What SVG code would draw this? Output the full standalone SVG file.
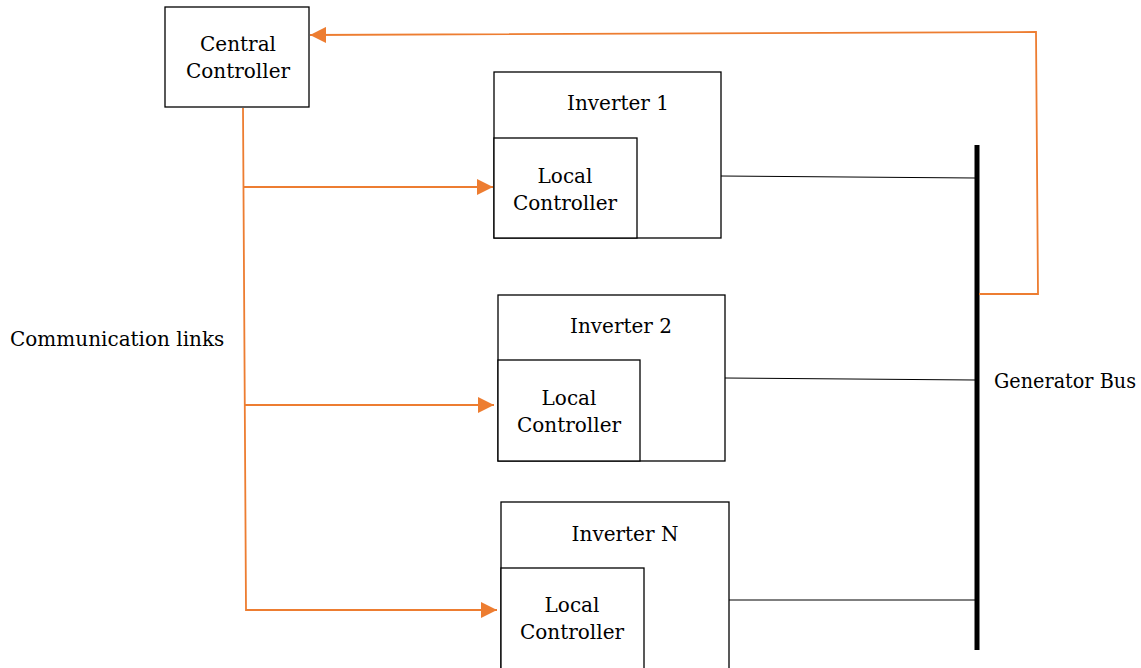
<svg xmlns="http://www.w3.org/2000/svg" width="1141" height="668" viewBox="0 0 1141 668">
  <style>
    .box { fill: #ffffff; stroke: #000000; stroke-width: 1.3; }
    .lbl { font-family: "DejaVu Serif", "Liberation Serif", serif; font-size: 20px; fill: #000000; }
    .mid { text-anchor: middle; }
    .comm { fill: none; stroke: #ED7D31; stroke-width: 1.8; }
    .wire { fill: none; stroke: #000000; stroke-width: 1; }
    .bus { fill: none; stroke: #000000; stroke-width: 5; }
  </style>
  <defs>
    <marker id="arrowL" viewBox="0 0 10 10" refX="10" refY="5" markerWidth="16" markerHeight="16" markerUnits="userSpaceOnUse" orient="auto">
      <path d="M0,0 L10,5 L0,10 Z" fill="#ED7D31"/>
    </marker>
  </defs>

  <g id="central-controller">
    <rect class="box" x="165" y="7" width="144" height="100"/>
    <text class="lbl mid" x="238" y="51">Central</text>
    <text class="lbl mid" x="238" y="78">Controller</text>
  </g>

  <g id="inverter-1">
    <rect class="box" x="494" y="72" width="227" height="166"/>
    <text class="lbl mid" x="618" y="110">Inverter 1</text>
    <rect class="box" x="494" y="138" width="143" height="100"/>
    <text class="lbl mid" x="565" y="183">Local</text>
    <text class="lbl mid" x="565" y="210">Controller</text>
  </g>

  <g id="inverter-2">
    <rect class="box" x="498" y="295" width="227" height="166"/>
    <text class="lbl mid" x="621" y="333">Inverter 2</text>
    <rect class="box" x="498" y="360" width="142" height="101"/>
    <text class="lbl mid" x="569" y="405">Local</text>
    <text class="lbl mid" x="569" y="432">Controller</text>
  </g>

  <g id="inverter-n">
    <rect class="box" x="501" y="502" width="228" height="170"/>
    <text class="lbl mid" x="625" y="541">Inverter N</text>
    <rect class="box" x="501" y="568" width="143" height="104"/>
    <text class="lbl mid" x="572" y="612">Local</text>
    <text class="lbl mid" x="572" y="639">Controller</text>
  </g>

  <g id="generator-bus">
    <line class="bus" x1="977" y1="145" x2="977" y2="650"/>
    <text class="lbl" x="994" y="388" textLength="142" lengthAdjust="spacingAndGlyphs">Generator Bus</text>
  </g>

  <g id="communication-label">
    <text class="lbl" x="10" y="346">Communication links</text>
  </g>

  <g id="connectors">
    <!-- power wiring to the bus -->
    <line class="wire" x1="721" y1="176" x2="975" y2="178"/>
    <line class="wire" x1="725" y1="378" x2="975" y2="380"/>
    <line class="wire" x1="729" y1="600" x2="975" y2="600"/>

    <!-- communication links from the central controller -->
    <polyline class="comm" points="243,108 246,610 497,610" marker-end="url(#arrowL)"/>
    <line class="comm" x1="243" y1="187" x2="493" y2="187" marker-end="url(#arrowL)"/>
    <line class="comm" x1="244" y1="405" x2="494" y2="405" marker-end="url(#arrowL)"/>

    <!-- bus measurement fed back to the central controller -->
    <polyline class="comm" points="979,294 1038,294 1036,32 310,35" marker-end="url(#arrowL)"/>
  </g>
</svg>
